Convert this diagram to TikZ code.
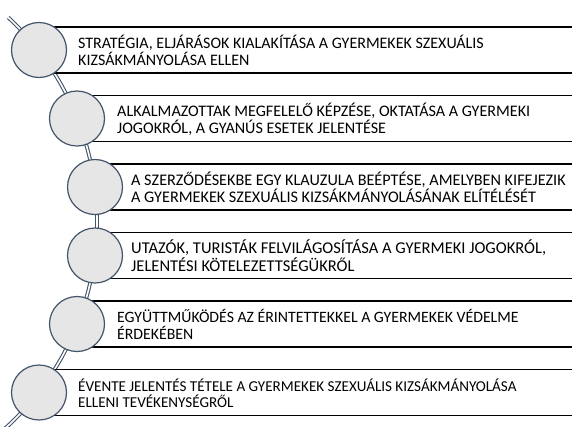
\documentclass[tikz,border=0pt]{standalone}
\usepackage{fontspec}
\setmainfont{Carlito}
\definecolor{slate}{HTML}{44546A}
\definecolor{cfill}{HTML}{E7E6E6}
\begin{document}
\begin{tikzpicture}[x=1pt,y=-1pt,
  arcline/.style={draw=slate,line width=1.1pt,double=white,double distance=1.6pt},
  itembox/.style={draw=black,fill=white,line width=1.3pt},
  bead/.style={circle,draw=slate,fill=cfill,line width=1.2pt,minimum size=55pt,inner sep=0pt},
  itemtext/.style={anchor=west,align=left,inner sep=0pt}]
\useasboundingbox (0,0) rectangle (572,426);
\coordinate (arcc) at (-182,221.5);
\draw[arcline] (arcc) ++(-47:279) coordinate (atop) arc[start angle=-47,end angle=50,radius=279] coordinate (abot);
\foreach \i/\cx/\tx/\fs/\txt in {
  1/39/78/16.0/{STRATÉGIA, ELJÁRÁSOK KIALAKÍTÁSA A GYERMEKEK SZEXUÁLIS\\KIZSÁKMÁNYOLÁSA ELLEN},
  2/77/117/16.1/{ALKALMAZOTTAK MEGFELELŐ KÉPZÉSE, OKTATÁSA A GYERMEKI\\JOGOKRÓL, A GYANÚS ESETEK JELENTÉSE},
  3/95/131/16.2/{A SZERZŐDÉSEKBE EGY KLAUZULA BEÉPTÉSE, AMELYBEN KIFEJEZIK\\A GYERMEKEK SZEXUÁLIS KIZSÁKMÁNYOLÁSÁNAK ELÍTÉLÉSÉT},
  4/95/131/16.5/{UTAZÓK, TURISTÁK FELVILÁGOSÍTÁSA A GYERMEKI JOGOKRÓL,\\JELENTÉSI KÖTELEZETTSÉGÜKRŐL},
  5/77/117/15.8/{EGYÜTTMŰKÖDÉS AZ ÉRINTETTEKKEL A GYERMEKEK VÉDELME\\ÉRDEKÉBEN},
  6/39/78/15.1/{ÉVENTE JELENTÉS TÉTELE A GYERMEKEK SZEXUÁLIS KIZSÁKMÁNYOLÁSA\\ELLENI TEVÉKENYSÉGRŐL}}{
  \pgfmathsetmacro{\boxtop}{27+68.5*(\i-1)}
  \pgfmathsetmacro{\boxmid}{\boxtop+23}
  \pgfmathsetmacro{\bls}{\fs*1.08}
  \draw[itembox] (\cx,\boxtop) rectangle (585,\boxtop+46);
  \node[itemtext,font=\fontsize{\fs}{\bls}\selectfont] (t\i) at (\tx,\boxmid+0.5) {\txt};
  \node[bead] (c\i) at (\cx,\boxmid) {};
}
\end{tikzpicture}
\end{document}
